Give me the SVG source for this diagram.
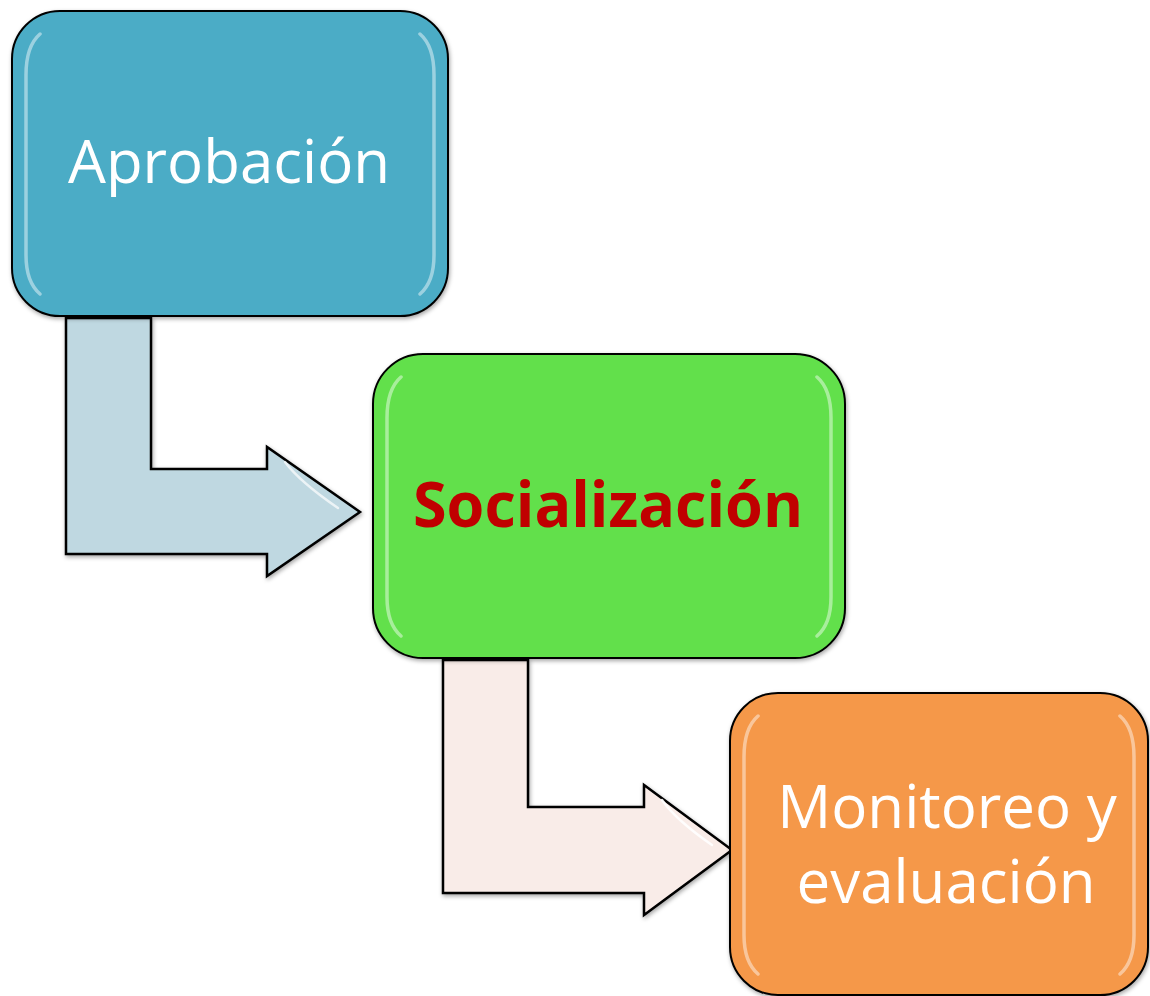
<svg xmlns="http://www.w3.org/2000/svg" width="1150" height="996" viewBox="0 0 1150 996">
<style>
.box{stroke:#000;stroke-width:2;}
.arr{stroke:#000;stroke-width:2.5;stroke-linejoin:miter;}
.hl{fill:none;stroke:#fff;stroke-width:3.5;stroke-linecap:round;stroke-opacity:0.45;}
.lbl{font-family:"Open Sans","Noto Sans",sans-serif;font-size:60px;fill:#fff;text-anchor:middle;}
.lblb{font-family:"Open Sans","Noto Sans",sans-serif;font-size:62px;font-weight:bold;fill:#C00000;text-anchor:middle;}
</style>
<defs>
<filter id="sh" x="-10%" y="-10%" width="120%" height="120%">
<feDropShadow dx="1" dy="2" stdDeviation="2" flood-color="#000" flood-opacity="0.35"/>
</filter>
</defs>
<g id="connectors">
<path class="arr" filter="url(#sh)" fill="#BFD8E1" d="M66,318 L151,318 L151,469 L267,469 L267,447 L360,512 L267,576 L267,554 L66,554 Z"/>
<path fill="none" stroke="#fff" stroke-opacity="0.7" stroke-width="2.5" stroke-linecap="round" d="M285,462 Q300,482 338,508"/>
<path class="arr" filter="url(#sh)" fill="#F9ECE8" d="M443,660 L528,660 L528,807 L644,807 L644,785 L732,850 L644,915 L644,893 L443,893 Z"/>
<path fill="none" stroke="#fff" stroke-opacity="0.9" stroke-width="2.5" stroke-linecap="round" d="M662,800 Q676,820 712,845"/>
</g>
<g id="node-aprobacion">
<rect class="box" filter="url(#sh)" x="12" y="11" width="436" height="305" rx="48" ry="48" fill="#4BACC6"/>
<path class="hl" d="M40,34 Q26,46 26,75 L26,255 Q26,282 40,294"/>
<path class="hl" d="M420,34 Q434,46 434,75 L434,255 Q434,282 420,294"/>
<text class="lbl" x="229" y="183">Aprobación</text>
</g>
<g id="node-socializacion">
<rect class="box" filter="url(#sh)" x="373" y="354" width="472" height="304" rx="50" ry="50" fill="#62E04B"/>
<path class="hl" d="M401,377 Q387,389 387,418 L387,597 Q387,624 401,636"/>
<path class="hl" d="M817,377 Q831,389 831,418 L831,597 Q831,624 817,636"/>
<text class="lblb" x="608" y="527" textLength="390" lengthAdjust="spacingAndGlyphs">Socialización</text>
</g>
<g id="node-monitoreo">
<rect class="box" filter="url(#sh)" x="730" y="693" width="418" height="302" rx="48" ry="48" fill="#F59848"/>
<path class="hl" d="M758,716 Q744,728 744,757 L744,935 Q744,962 758,974"/>
<path class="hl" d="M1120,716 Q1134,728 1134,757 L1134,935 Q1134,962 1120,974"/>
<text class="lbl" x="947" y="828">Monitoreo y</text>
<text class="lbl" x="946" y="903">evaluación</text>
</g>
</svg>
